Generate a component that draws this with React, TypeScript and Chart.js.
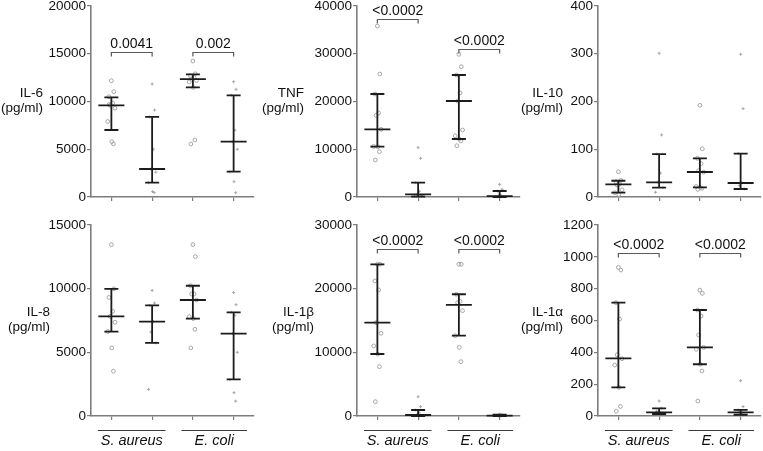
import React, { useEffect, useRef } from 'react';
import { Chart, registerables } from 'chart.js';

Chart.register(...registerables);

// ---------------- DATA ----------------
const CATEGORIES = [1, 2, 3, 4]; // S. aureus (−,+), E. coli (−,+)
const GROUP_LABELS = ['S. aureus', 'E. coli'];
const Y_UNIT = '(pg/ml)';

// IL-6
const IL6_POINTS = [
  [12180, 11030, 10500, 9850, 9600, 9300, 7900, 5800, 5560, 9700],
  [11830, 9100, 8380, 5000, 2930, 2600, 1500, 560, 460],
  [14240, 12900, 12700, 12500, 12350, 12200, 12050, 11480, 5970, 5550],
  [12070, 11270, 10650, 7000, 5790, 5000, 2650, 1600, 450],
];
const IL6_MEDIAN = [9600, 2930, 12350, 5790];
const IL6_Q1 = [7015, 1500, 11480, 2650];
const IL6_Q3 = [10440, 8380, 12840, 10650];
const IL6_TICKS = [0, 20000, 5000];
const IL6_P = [
  { from: 1, to: 2, y: 15150, label: '0.0041' },
  { from: 3, to: 4, y: 15150, label: '0.002' },
];

// TNF
const TNF_POINTS = [
  [35800, 25750, 21570, 17600, 17100, 14170, 10600, 10500, 9490, 7750],
  [10330, 8100, 3000, 1200, 560, 300, 100, 50],
  [29880, 27290, 25550, 21800, 20100, 14030, 12800, 12150, 11730, 10750],
  [2650, 1600, 1260, 400, 200, 100, 50],
];
const TNF_MEDIAN = [14170, 560, 20100, 200];
const TNF_Q1 = [10530, 70, 12150, 0];
const TNF_Q3 = [21570, 3000, 25550, 1260];
const TNF_TICKS = [0, 40000, 10000];
const TNF_P = [
  { from: 1, to: 2, y: 37270, label: '<0.0002' },
  { from: 3, to: 4, y: 31000, label: '<0.0002' },
];

// IL-10
const IL10_POINTS = [
  [53, 35, 32, 27, 25, 15, 9, 5],
  [301, 130, 90, 50, 31, 20, 10],
  [192, 101, 81, 70, 55, 52, 22, 20, 18, 16],
  [299, 185, 91, 30, 24, 17],
];
const IL10_MEDIAN = [26.6, 30.7, 52.4, 29.3];
const IL10_Q1 = [9, 19.5, 20.3, 16.8];
const IL10_Q3 = [34, 90, 81, 90.7];
const IL10_TICKS = [0, 400, 100];
const IL10_P: { from: number; to: number; y: number; label: string }[] = [];

// IL-8
const IL8_POINTS = [
  [13460, 9990, 9310, 8220, 7825, 7360, 6630, 5350, 3520],
  [9860, 8870, 8690, 7410, 6600, 5740, 2090],
  [13460, 12520, 10230, 9580, 9580, 9110, 7800, 7650, 6810, 5350],
  [9700, 8740, 8140, 7900, 6470, 5000, 2870, 1830, 1170],
];
const IL8_MEDIAN = [7825, 7410, 9110, 6470];
const IL8_Q1 = [6630, 5740, 7650, 2870];
const IL8_Q3 = [9990, 8690, 10230, 8140];
const IL8_TICKS = [0, 15000, 5000];
const IL8_P: { from: number; to: number; y: number; label: string }[] = [];

// IL-1β
const IL1B_POINTS = [
  [23830, 23830, 21210, 19800, 14660, 12990, 11000, 9740, 7750, 2250],
  [3030, 1460, 940, 500, 160, 100, 50],
  [23830, 23830, 19120, 18000, 17800, 16540, 12620, 10790, 8530],
  [300, 200, 100, 50, 30],
];
const IL1B_MEDIAN = [14660, 160, 17440, 50];
const IL1B_Q1 = [9740, 0, 12620, 0];
const IL1B_Q3 = [23830, 940, 19120, 200];
const IL1B_TICKS = [0, 30000, 10000];
const IL1B_P = [
  { from: 1, to: 2, y: 26240, label: '<0.0002' },
  { from: 3, to: 4, y: 26240, label: '<0.0002' },
];

// IL-1α
const IL1A_POINTS = [
  [934, 917, 712, 609, 385, 360, 320, 180, 60, 30],
  [94, 50, 30, 20, 12],
  [791, 771, 666, 628, 509, 431, 419, 325, 283, 94],
  [222, 59, 38, 20, 8],
];
const IL1A_MEDIAN = [362, 23, 431, 23];
const IL1A_Q1 = [180, 12, 325, 8];
const IL1A_Q3 = [712, 48, 666, 38];
const IL1A_TICKS = [0, 1200, 200];
const IL1A_P = [
  { from: 1, to: 2, y: 1026, label: '<0.0002' },
  { from: 3, to: 4, y: 1026, label: '<0.0002' },
];

// ---------------- STYLE / LAYOUT ----------------
const FONT = '"Liberation Sans", Arial, Helvetica, sans-serif';
const AXIS = '#7d7d7d';
const TEXT = '#111111';
const POINT = '#a6a6a6';
const BAR = '#1c1c1c';
const JITTER = [0, 0.06, -0.06, 0.03, -0.03, 0.09, -0.09, 0.01, 0.05, -0.05];
const GROUP_SPANS = [[0.67, 2.33], [2.72, 4.33]];
const LEFT_W = 100;
const PLOT_W = 164;
const PLOT_H = 191;
const PAD_TOP = 20;

type PVal = { from: number; to: number; y: number; label: string };
type Panel = {
  name: string;
  axisX: number;
  top: number;
  labelGap: number;
  points: number[][];
  median: number[];
  q1: number[];
  q3: number[];
  ticks: number[];
  pvals: PVal[];
  bottomRow: boolean;
};

const PANELS: Panel[] = [
  { name: 'IL-6', axisX: 91, top: 6, labelGap: 48, points: IL6_POINTS, median: IL6_MEDIAN, q1: IL6_Q1, q3: IL6_Q3, ticks: IL6_TICKS, pvals: IL6_P, bottomRow: false },
  { name: 'TNF', axisX: 357, top: 6, labelGap: 53, points: TNF_POINTS, median: TNF_MEDIAN, q1: TNF_Q1, q3: TNF_Q3, ticks: TNF_TICKS, pvals: TNF_P, bottomRow: false },
  { name: 'IL-10', axisX: 598, top: 6, labelGap: 35, points: IL10_POINTS, median: IL10_MEDIAN, q1: IL10_Q1, q3: IL10_Q3, ticks: IL10_TICKS, pvals: IL10_P, bottomRow: false },
  { name: 'IL-8', axisX: 91, top: 225, labelGap: 41, points: IL8_POINTS, median: IL8_MEDIAN, q1: IL8_Q1, q3: IL8_Q3, ticks: IL8_TICKS, pvals: IL8_P, bottomRow: true },
  { name: 'IL-1β', axisX: 357, top: 225, labelGap: 43, points: IL1B_POINTS, median: IL1B_MEDIAN, q1: IL1B_Q1, q3: IL1B_Q3, ticks: IL1B_TICKS, pvals: IL1B_P, bottomRow: true },
  { name: 'IL-1α', axisX: 598, top: 225, labelGap: 35, points: IL1A_POINTS, median: IL1A_MEDIAN, q1: IL1A_Q1, q3: IL1A_Q3, ticks: IL1A_TICKS, pvals: IL1A_P, bottomRow: true },
];

function toPoints(groups: number[][], which: number[]) {
  const out: { x: number; y: number }[] = [];
  which.forEach((gi) => {
    groups[gi].forEach((v, k) => {
      out.push({ x: CATEGORIES[gi] + JITTER[k % JITTER.length], y: v });
    });
  });
  return out;
}

const annotPlugin = {
  id: 'annot',
  afterDatasetsDraw(chart: any, _args: any, opts: any) {
    const p: Panel = opts.panel;
    if (!p) return;
    const { ctx, chartArea } = chart;
    const x = chart.scales.x;
    const y = chart.scales.y;
    ctx.save();

    // median + interquartile range bars
    ctx.strokeStyle = BAR;
    ctx.lineWidth = 1.8;
    ctx.lineCap = 'butt';
    p.median.forEach((m, i) => {
      const cx = x.getPixelForValue(CATEGORIES[i]);
      const ym = y.getPixelForValue(m);
      const y1 = y.getPixelForValue(p.q1[i]);
      const y3 = y.getPixelForValue(p.q3[i]);
      ctx.beginPath();
      ctx.moveTo(cx, y1);
      ctx.lineTo(cx, y3);
      ctx.moveTo(cx - 13, ym);
      ctx.lineTo(cx + 13, ym);
      ctx.moveTo(cx - 7, y1);
      ctx.lineTo(cx + 7, y1);
      ctx.moveTo(cx - 7, y3);
      ctx.lineTo(cx + 7, y3);
      ctx.stroke();
    });

    // significance brackets
    p.pvals.forEach((b) => {
      const xa = x.getPixelForValue(b.from);
      const xb = x.getPixelForValue(b.to);
      const yy = Math.round(y.getPixelForValue(b.y)) + 0.5;
      ctx.strokeStyle = '#5a5a5a';
      ctx.lineWidth = 1.2;
      ctx.beginPath();
      ctx.moveTo(xa, yy + 4);
      ctx.lineTo(xa, yy);
      ctx.lineTo(xb, yy);
      ctx.lineTo(xb, yy + 4);
      ctx.stroke();
      ctx.fillStyle = TEXT;
      ctx.font = `14px ${FONT}`;
      ctx.textAlign = 'center';
      ctx.textBaseline = 'alphabetic';
      ctx.fillText(b.label, (xa + xb) / 2, yy - 4.5);
    });

    // y-axis label (horizontal, two lines)
    const mid = (chartArea.top + chartArea.bottom) / 2;
    const rx = chartArea.left - p.labelGap;
    ctx.fillStyle = TEXT;
    ctx.font = `13.5px ${FONT}`;
    ctx.textAlign = 'right';
    ctx.textBaseline = 'middle';
    ctx.fillText(p.name, rx, mid - 8);
    ctx.fillText(Y_UNIT, rx, mid + 7);

    // group labels under bottom row
    if (p.bottomRow) {
      GROUP_SPANS.forEach((span, gi) => {
        const xa = x.getPixelForValue(span[0]);
        const xb = x.getPixelForValue(span[1]);
        const ly = Math.round(chartArea.bottom + 14) + 0.5;
        ctx.strokeStyle = '#3a3a3a';
        ctx.lineWidth = 1;
        ctx.beginPath();
        ctx.moveTo(xa, ly);
        ctx.lineTo(xb, ly);
        ctx.stroke();
        ctx.fillStyle = TEXT;
        ctx.font = `italic 14.5px ${FONT}`;
        ctx.textAlign = 'center';
        ctx.textBaseline = 'middle';
        ctx.fillText(GROUP_LABELS[gi], (xa + xb) / 2, chartArea.bottom + 25);
      });
    }
    ctx.restore();
  },
};

function PanelChart({ panel }: { panel: Panel }) {
  const ref = useRef<HTMLCanvasElement | null>(null);
  const bottomExtra = panel.bottomRow ? 36 : 14;
  const width = LEFT_W + PLOT_W + 4;
  const height = PAD_TOP + PLOT_H + bottomExtra;

  useEffect(() => {
    if (!ref.current) return;
    const chart = new Chart(ref.current, {
      type: 'scatter',
      data: {
        datasets: [
          {
            data: toPoints(panel.points, [0, 2]),
            pointStyle: 'circle',
            pointRadius: 1.9,
            pointBorderWidth: 1,
            pointBorderColor: POINT,
            pointBackgroundColor: 'rgba(0,0,0,0)',
            clip: false,
          } as any,
          {
            data: toPoints(panel.points, [1, 3]),
            pointStyle: 'cross',
            pointRadius: 1.5,
            pointBorderWidth: 1,
            pointBorderColor: POINT,
            pointBackgroundColor: POINT,
            clip: false,
          } as any,
        ],
      },
      options: {
        animation: false,
        responsive: false,
        events: [],
        layout: { padding: { top: PAD_TOP, left: 0, right: 4, bottom: 0 } },
        plugins: {
          legend: { display: false },
          tooltip: { enabled: false },
          annot: { panel },
        } as any,
        scales: {
          x: {
            type: 'linear',
            min: 0.5,
            max: 4.5,
            afterBuildTicks: (s: any) => {
              s.ticks = CATEGORIES.map((v) => ({ value: v }));
            },
            ticks: { display: false },
            grid: { drawOnChartArea: false, drawTicks: true, tickLength: 4, color: AXIS, lineWidth: 1.2 },
            border: { display: true, color: AXIS, width: 1.6 },
            afterFit: (s: any) => {
              s.height = bottomExtra;
            },
          },
          y: {
            type: 'linear',
            min: panel.ticks[0],
            max: panel.ticks[1],
            ticks: {
              stepSize: panel.ticks[2],
              color: TEXT,
              padding: 1,
              font: { family: FONT, size: 13.5 },
              callback: (v: any) => String(v),
            },
            grid: { drawOnChartArea: false, drawTicks: true, tickLength: 4, color: AXIS, lineWidth: 1.2 },
            border: { display: true, color: AXIS, width: 1.6 },
            afterFit: (s: any) => {
              s.width = LEFT_W;
            },
          },
        },
      } as any,
      plugins: [annotPlugin as any],
    });
    return () => chart.destroy();
  }, [panel]);

  return (
    <div
      style={{
        position: 'absolute',
        left: panel.axisX - LEFT_W,
        top: panel.top - PAD_TOP,
        width,
        height,
      }}
    >
      <canvas ref={ref} width={width} height={height} style={{ width, height, display: 'block' }} />
    </div>
  );
}

export default function App() {
  return (
    <div
      style={{
        position: 'fixed',
        left: 0,
        top: 0,
        width: 763,
        height: 451,
        background: '#ffffff',
        overflow: 'hidden',
      }}
    >
      {PANELS.map((p) => (
        <PanelChart key={p.name} panel={p} />
      ))}
    </div>
  );
}
